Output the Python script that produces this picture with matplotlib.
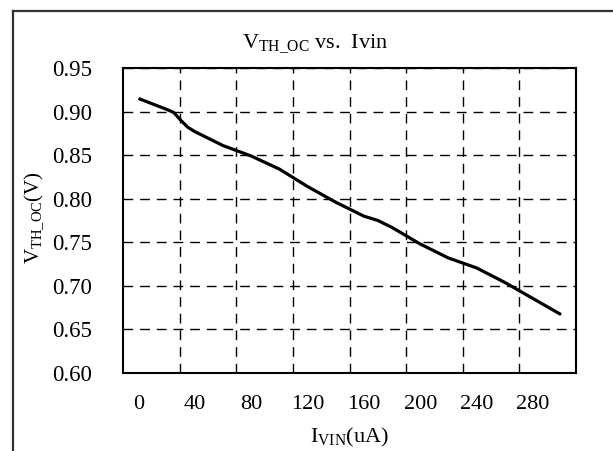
import numpy as np
import matplotlib
matplotlib.use("Agg")
import matplotlib.pyplot as plt
from matplotlib.lines import Line2D

plt.rcParams['font.family'] = ['Liberation Serif', 'DejaVu Serif']
plt.rcParams['mathtext.fontset'] = 'custom'
plt.rcParams['mathtext.rm'] = 'Liberation Serif'

# data
ivin = [0, 20, 25, 30, 35, 40, 60, 80, 100, 120, 140, 160, 170, 180, 200, 220, 240, 260, 280, 300]
vth = [0.915, 0.9025, 0.899, 0.890, 0.882, 0.877, 0.861, 0.849, 0.834, 0.814, 0.796, 0.780,
       0.775, 0.767, 0.748, 0.732, 0.7206, 0.704, 0.6855, 0.667]
x_labels = [0, 40, 80, 120, 160, 200, 240, 280]
y_ticks = [0.60, 0.65, 0.70, 0.75, 0.80, 0.85, 0.90, 0.95]

W, H = 613, 451
fig = plt.figure(figsize=(W / 100, H / 100), dpi=100)
fig.patch.set_facecolor('white')

# axes box in pixels: left 123, right 576, top 68, bottom 373
ax = fig.add_axes([123 / W, 1 - 373 / H, (576 - 123) / W, (373 - 68) / H])

ax.plot(ivin, vth, color='black', lw=2.3, solid_capstyle='butt')

x0, x1 = -11, 310.6
ax.set_xlim(x0, x1)
ax.set_ylim(0.60, 0.95)

# vertical grid lines are not aligned with the labels in the original
grid_x = np.linspace(x0, x1, 9)[1:-1]
ax.set_xticks(grid_x)
ax.set_xticklabels([])
ax.set_xticks(x_labels, minor=True)
ax.set_xticklabels([str(v) for v in x_labels], minor=True)
ax.tick_params(axis='x', which='both', length=0)
ax.tick_params(axis='x', which='minor', pad=16, labelsize=16)

ax.set_yticks(y_ticks)
ax.set_yticklabels(['%.2f' % v for v in y_ticks])
ax.tick_params(axis='y', length=0, pad=22, labelsize=16.5)

ax.grid(True, which='major', color='black', lw=1.0, linestyle=(0, (7, 5)))
for s in ax.spines.values():
    s.set_linewidth(1.5)
    s.set_color('black')

# titles
fig.text(315 / W, 1 - 44 / H, r'$\mathregular{V_{TH\_OC}}$ vs.  Ivin',
         ha='center', va='center', fontsize=16)
fig.text(349 / W, 1 - 437 / H, r'$\mathregular{I_{VIN}}$(uA)',
         ha='center', va='center', fontsize=16)
fig.text(34 / W, 1 - 218 / H, r'$\mathregular{V_{TH\_OC}}$(V)',
         ha='center', va='center', fontsize=15, rotation=90)

# outer frame (only left and top edges visible)
fig.add_artist(Line2D([13 / W, 13 / W], [0, 1 - 11 / H], transform=fig.transFigure,
                      color='#333333', lw=1.6))
fig.add_artist(Line2D([13 / W, 1], [1 - 11 / H, 1 - 11 / H], transform=fig.transFigure,
                      color='#333333', lw=1.6))

fig.savefig('out.png', dpi=100)
